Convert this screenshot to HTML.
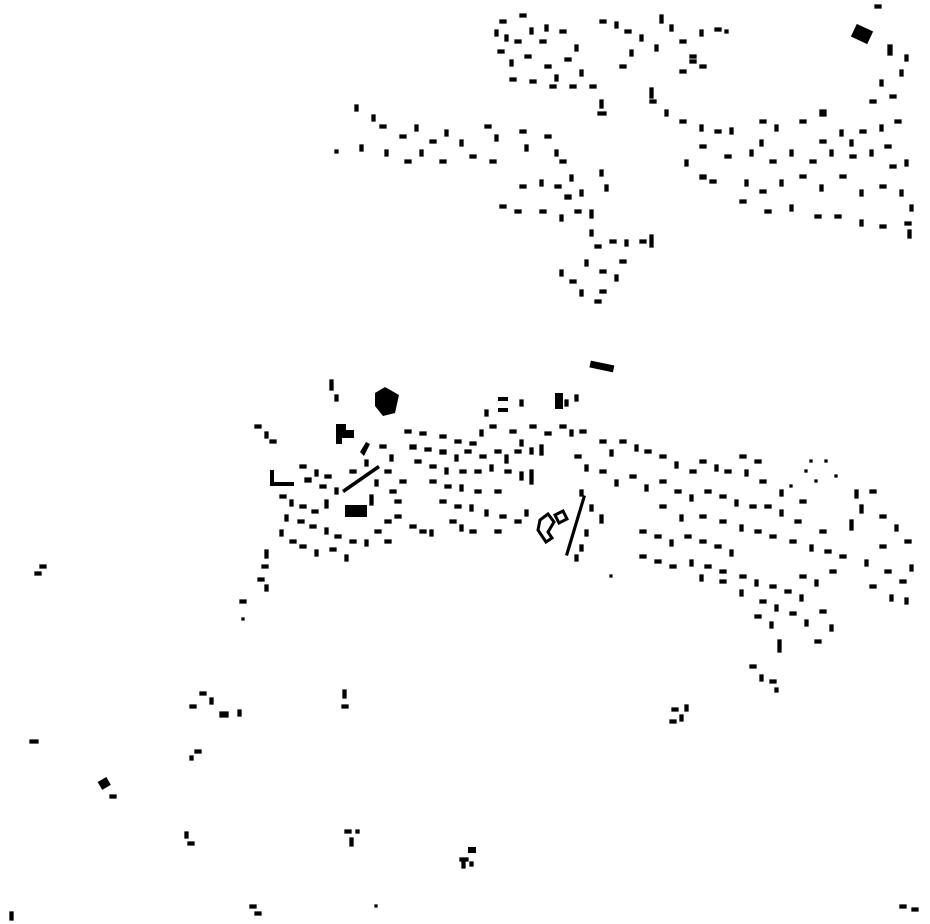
<!DOCTYPE html>
<html><head><meta charset="utf-8"><style>html,body{margin:0;padding:0;background:#fff}svg{display:block}</style></head>
<body>
<svg width="930" height="924" viewBox="0 0 930 924" xmlns="http://www.w3.org/2000/svg">
<g fill="#000">
<path d="M375 393l10-6 14 8-4 18-12 3-8-10z"/>
<rect x="853" y="27" width="18" height="14" transform="rotate(25 862 34)"/>
<rect x="590" y="363" width="24" height="7" transform="rotate(12 602 366)"/>
<rect x="555" y="393" width="8" height="16"/>
<rect x="498" y="397" width="10" height="4"/><rect x="498" y="408" width="10" height="4"/>
<path d="M336 424h10v6h8v8h-12v6h-6z"/>
<rect x="99" y="779" width="10" height="9" transform="rotate(-30 104 783)"/>
<rect x="468" y="847" width="8" height="6"/>
<path d="M540 520l8-6 6 8-6 10 4 6-6 4-8-12zM555 515l8-4 4 8-8 4z" fill="none" stroke="#000" stroke-width="3"/>
<path d="M360 452l6-10 4 2-6 12zM342 490l36-25 2 3-36 25z"/>
<path d="M565 555l18-60 3 1-18 60z"/>
<path d="M270 470h4v12h20v4h-24z"/>
<path d="M345 505h22v12h-22z"/>
</g>
<path fill="#000" stroke="#000" stroke-width="1.3" stroke-linejoin="miter" d="
M500 20h6v3h-6zM505 35h3v6h-3zM498 50h6v3h-6zM510 60h3v6h-3zM520 14h6v3h-6zM530 28h3v6h-3zM540 40h6v3h-6zM525 55h6v3h-6zM545 65h6v3h-6zM555 75h3v6h-3zM565 58h6v3h-6zM575 45h3v6h-3zM560 30h6v3h-6zM580 70h3v6h-3zM590 85h6v3h-6zM600 20h6v3h-6zM615 22h3v6h-3zM625 30h6v3h-6zM630 50h3v6h-3zM620 65h6v3h-6zM660 15h3v8h-3zM670 25h3v6h-3zM680 40h6v3h-6zM690 55h6v3h-6zM700 30h3v6h-3zM715 28h6v3h-6zM725 30h3v3h-3zM680 70h6v3h-6zM690 60h6v3h-6zM510 78h6v3h-6zM530 80h6v3h-6zM550 85h6v3h-6zM600 100h3v8h-3zM598 112h8v3h-8zM515 40h6v3h-6zM495 30h3v6h-3zM545 25h3v6h-3zM570 85h6v3h-6zM640 35h3v6h-3zM655 45h3v6h-3zM700 65h6v3h-6zM650 88h3v10h-3zM888 45h4v10h-4zM875 5h6v3h-6z
M355 105h3v6h-3zM360 145h3v6h-3zM335 150h3v3h-3zM380 125h6v3h-6zM385 150h3v6h-3zM400 135h6v3h-6zM415 125h3v6h-3zM430 140h6v3h-6zM445 130h3v6h-3zM440 160h6v3h-6zM460 140h3v6h-3zM470 155h6v3h-6zM485 125h6v3h-6zM495 135h3v6h-3zM490 160h6v3h-6zM520 130h6v3h-6zM525 145h3v6h-3zM545 135h6v3h-6zM555 150h3v6h-3zM560 160h6v3h-6zM570 175h3v6h-3zM555 185h6v3h-6zM565 195h6v4h-6zM580 190h3v6h-3zM600 170h3v6h-3zM605 185h3v6h-3zM520 185h6v3h-6zM540 180h3v6h-3zM500 205h6v3h-6zM515 210h6v3h-6zM540 210h6v3h-6zM560 215h3v6h-3zM575 210h6v3h-6zM590 230h3v6h-3zM595 245h6v3h-6zM585 260h3v6h-3zM600 270h6v3h-6zM610 240h6v3h-6zM625 240h3v6h-3zM640 240h6v3h-6zM650 235h3v12h-3zM620 260h6v3h-6zM615 275h3v6h-3zM600 290h6v3h-6zM570 280h6v3h-6zM560 270h3v6h-3zM580 290h3v6h-3zM595 300h6v3h-6zM405 160h6v3h-6zM420 150h3v6h-3zM372 115h3v6h-3zM590 210h3v8h-3z
M650 100h6v3h-6zM665 110h3v6h-3zM680 120h6v3h-6zM700 125h3v6h-3zM715 130h6v3h-6zM730 128h3v6h-3zM700 145h6v3h-6zM685 160h3v6h-3zM700 175h6v4h-6zM710 180h6v3h-6zM760 120h6v3h-6zM775 125h3v6h-3zM800 120h6v3h-6zM820 110h6v6h-6zM840 130h3v6h-3zM860 130h6v3h-6zM880 125h3v6h-3zM895 120h6v3h-6zM750 150h3v6h-3zM770 160h6v3h-6zM790 150h3v6h-3zM810 160h6v3h-6zM830 150h3v6h-3zM850 155h6v3h-6zM870 150h3v6h-3zM890 165h6v3h-6zM905 160h3v6h-3zM745 180h3v6h-3zM760 190h6v3h-6zM780 180h3v6h-3zM800 175h6v3h-6zM820 185h3v6h-3zM840 175h6v3h-6zM860 190h3v6h-3zM880 185h6v3h-6zM900 190h3v6h-3zM910 205h3v6h-3zM740 200h6v3h-6zM765 210h6v3h-6zM790 205h3v6h-3zM815 215h6v3h-6zM835 215h6v3h-6zM860 220h3v6h-3zM880 225h6v3h-6zM905 222h6v3h-6zM908 230h3v8h-3zM880 80h3v6h-3zM890 95h6v3h-6zM900 70h3v6h-3zM870 100h6v3h-6zM905 55h3v6h-3zM820 140h6v3h-6zM850 140h3v6h-3zM725 155h6v3h-6zM760 140h3v6h-3zM885 145h6v3h-6z
M330 380h3v10h-3zM335 395h3v6h-3zM255 425h6v3h-6zM265 432h3v6h-3zM270 440h6v3h-6zM300 465h6v3h-6zM315 470h3v6h-3zM325 475h6v3h-6zM305 478h6v4h-6zM320 485h6v3h-6zM335 488h3v6h-3zM280 495h6v3h-6zM290 500h3v6h-3zM300 505h6v3h-6zM312 510h6v3h-6zM325 500h3v8h-3zM285 515h3v6h-3zM298 520h6v3h-6zM310 525h6v3h-6zM325 528h3v6h-3zM335 535h6v3h-6zM350 540h6v3h-6zM365 540h3v6h-3zM375 530h6v3h-6zM385 520h6v3h-6zM395 515h6v3h-6zM410 525h6v3h-6zM420 530h6v3h-6zM430 530h3v6h-3zM280 530h3v6h-3zM290 540h6v3h-6zM300 545h6v3h-6zM315 550h3v6h-3zM330 548h6v3h-6zM345 555h3v6h-3zM265 550h3v8h-3zM262 565h6v3h-6zM258 578h6v3h-6zM265 585h3v6h-3zM240 600h6v3h-6zM385 540h6v3h-6zM395 500h6v3h-6zM370 495h3v10h-3zM350 470h6v3h-6zM365 460h3v6h-3zM380 445h6v3h-6zM390 455h3v6h-3zM385 470h6v3h-6zM400 480h6v3h-6zM375 480h3v6h-3zM390 490h6v3h-6z
M405 430h6v3h-6zM420 432h6v3h-6zM440 435h6v3h-6zM455 440h6v3h-6zM470 442h6v3h-6zM480 430h3v6h-3zM490 425h6v3h-6zM510 430h6v3h-6zM520 440h3v6h-3zM530 425h6v3h-6zM545 432h6v3h-6zM560 425h6v3h-6zM570 430h3v6h-3zM410 445h6v4h-6zM425 448h6v3h-6zM440 450h6v4h-6zM455 455h3v6h-3zM465 450h6v3h-6zM480 455h6v3h-6zM495 450h6v3h-6zM505 455h3v8h-3zM515 450h6v3h-6zM530 448h3v6h-3zM540 445h3v10h-3zM415 460h6v3h-6zM430 465h6v3h-6zM445 468h3v6h-3zM460 470h6v3h-6zM475 470h6v3h-6zM490 465h3v6h-3zM505 470h6v3h-6zM520 472h3v8h-3zM530 470h3v14h-3zM430 480h6v3h-6zM445 485h6v3h-6zM460 485h3v6h-3zM475 490h6v3h-6zM495 490h6v3h-6zM440 500h6v3h-6zM455 505h6v3h-6zM470 505h3v6h-3zM485 510h3v6h-3zM450 520h6v3h-6zM460 525h3v6h-3zM470 530h6v3h-6zM500 515h6v3h-6zM515 520h6v3h-6zM525 510h3v6h-3zM495 530h6v3h-6zM580 430h6v3h-6zM520 400h3v6h-3zM485 410h3v6h-3zM565 400h3v6h-3zM575 395h3v6h-3z
M575 455h6v3h-6zM585 465h3v6h-3zM600 440h6v3h-6zM610 450h3v6h-3zM620 440h6v3h-6zM635 445h3v6h-3zM645 450h6v3h-6zM660 455h6v3h-6zM675 462h3v6h-3zM690 470h6v3h-6zM700 460h6v3h-6zM715 465h3v6h-3zM725 470h6v3h-6zM600 470h6v3h-6zM615 480h3v6h-3zM630 475h6v3h-6zM645 485h3v6h-3zM660 480h6v3h-6zM675 490h6v3h-6zM690 495h3v6h-3zM705 490h6v3h-6zM720 495h6v3h-6zM735 500h3v6h-3zM750 505h6v3h-6zM765 505h6v3h-6zM780 510h3v6h-3zM795 520h6v3h-6zM580 490h3v6h-3zM590 505h3v6h-3zM600 515h3v8h-3zM585 530h3v6h-3zM580 545h3v6h-3zM575 555h3v6h-3zM640 530h6v3h-6zM655 535h6v3h-6zM670 540h3v6h-3zM685 535h6v3h-6zM700 540h6v3h-6zM715 545h6v3h-6zM730 550h3v6h-3zM640 555h6v3h-6zM655 560h6v3h-6zM670 565h6v3h-6zM690 560h3v6h-3zM705 565h6v3h-6zM720 570h6v3h-6zM740 575h6v3h-6zM755 580h3v6h-3zM770 585h6v3h-6zM785 590h6v3h-6zM800 595h3v6h-3zM660 505h6v3h-6zM680 515h3v6h-3zM700 515h6v3h-6zM720 520h6v3h-6zM740 525h3v6h-3zM755 530h6v3h-6zM770 535h6v3h-6zM790 540h6v3h-6zM810 545h3v6h-3zM825 550h6v3h-6zM840 555h6v3h-6zM850 520h3v10h-3zM860 505h3v8h-3zM870 490h6v3h-6zM855 490h3v8h-3zM880 515h6v3h-6zM895 525h3v6h-3zM905 540h6v3h-6zM880 545h6v3h-6zM865 560h3v6h-3zM885 570h6v3h-6zM900 580h6v3h-6zM910 565h3v6h-3zM870 585h6v3h-6zM890 595h3v6h-3zM905 598h3v6h-3zM830 570h6v3h-6zM815 580h3v6h-3zM800 575h6v3h-6zM760 600h6v3h-6zM775 605h3v6h-3zM790 612h6v3h-6zM805 620h3v6h-3zM820 610h6v3h-6zM830 625h3v6h-3zM815 640h6v3h-6zM778 640h3v12h-3zM740 590h3v6h-3zM755 615h6v3h-6zM770 622h3v6h-3zM720 580h6v3h-6zM700 575h3v6h-3zM820 530h6v3h-6zM800 500h6v3h-6zM780 490h3v6h-3zM760 480h6v3h-6zM745 470h3v6h-3zM740 455h6v3h-6zM755 460h6v3h-6zM805 470h2v2h-2zM815 480h2v2h-2zM825 460h2v2h-2zM790 485h2v2h-2zM835 475h2v2h-2zM810 460h2v2h-2z
M750 665h6v3h-6zM760 675h3v6h-3zM770 680h6v3h-6zM775 688h3v4h-3zM672 708h6v3h-6zM680 715h3v6h-3zM670 720h6v3h-6zM685 705h3v6h-3z
M40 565h6v3h-6zM35 572h6v3h-6zM200 692h6v3h-6zM210 698h3v6h-3zM220 712h8v5h-8zM238 710h3v6h-3zM190 705h6v3h-6zM343 690h3v8h-3zM342 705h6v3h-6zM30 740h8v3h-8zM195 750h6v3h-6zM190 756h3v4h-3zM110 795h6v3h-6zM185 832h3v6h-3zM188 842h6v3h-6zM345 830h6v3h-6zM350 838h3v8h-3zM356 830h3v3h-3zM460 858h8v3h-8zM462 862h3v6h-3zM470 862h3v4h-3zM250 905h6v3h-6zM255 912h6v3h-6zM10 912h3v8h-3zM375 905h2v2h-2zM900 905h6v3h-6zM912 908h6v3h-6zM610 575h2v2h-2zM242 618h2v2h-2z
"/>
</svg>
</body></html>
